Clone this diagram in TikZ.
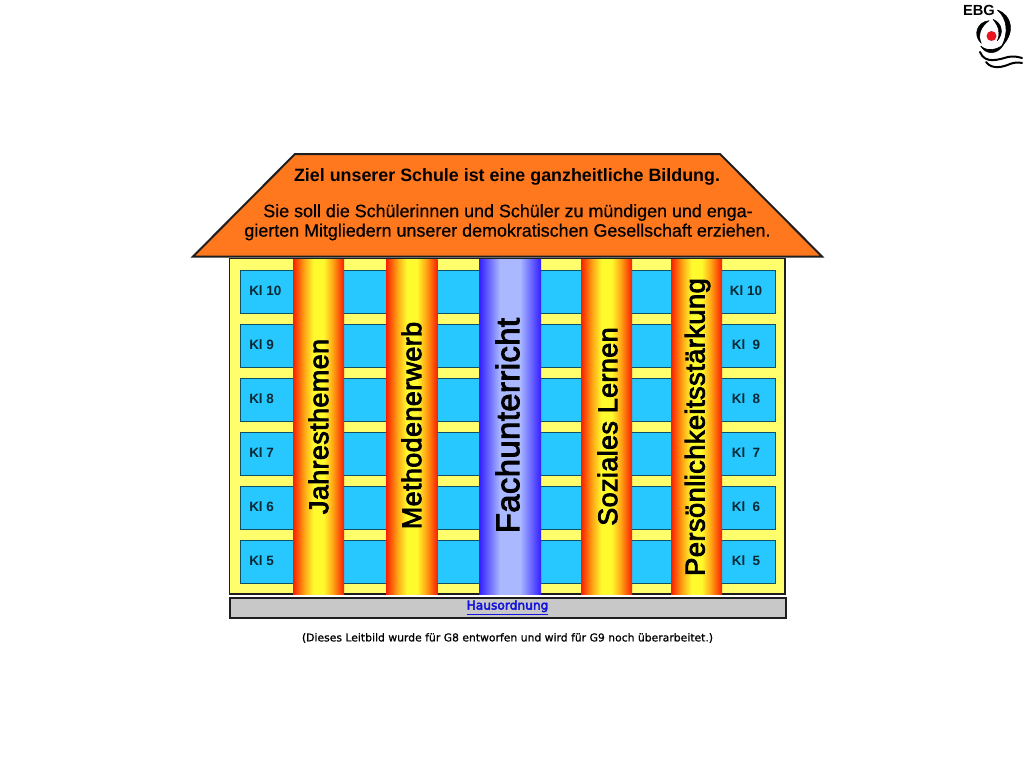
\documentclass[tikz,border=0pt]{standalone}
\usepackage{fontspec}
\setmainfont{Liberation Sans}
\newfontfamily\smallui[FakeBold=0.8]{DejaVu Sans}
\newfontfamily\linkui[FakeBold=3.5]{DejaVu Sans}
\newfontfamily\pillarfont[FakeBold=3,LetterSpace=1.5]{Liberation Sans}
\newfontfamily\roofbody[FakeBold=0.6]{Liberation Sans}
\definecolor{roofc}{RGB}{255,120,30}
\definecolor{wallc}{RGB}{255,255,110}
\definecolor{roomc}{RGB}{38,200,255}
\definecolor{barc}{RGB}{200,200,200}
\definecolor{framec}{RGB}{30,30,30}
\definecolor{linkc}{RGB}{20,20,220}
\definecolor{bluee}{RGB}{50,30,255}
\definecolor{bluem}{RGB}{170,185,255}
\definecolor{reddot}{RGB}{235,20,30}
\definecolor{warmred}{RGB}{250,30,0}
\definecolor{warmorange}{RGB}{255,165,20}
\definecolor{warmyellow}{RGB}{255,250,45}
\pgfdeclarehorizontalshading{warmshade}{100bp}{
  color(0bp)=(warmred); color(25bp)=(warmred);
  color(36bp)=(warmorange); color(45bp)=(warmyellow); color(55bp)=(warmyellow);
  color(64bp)=(warmorange); color(75bp)=(warmred); color(100bp)=(warmred)}
\pgfdeclarehorizontalshading{coolshade}{100bp}{
  color(0bp)=(bluee); color(25bp)=(bluee); color(42bp)=(bluem);
  color(58bp)=(bluem); color(75bp)=(bluee); color(100bp)=(bluee)}
\tikzset{
  x=0.75pt,y=-0.75pt,
  roomcell/.style={draw=black!60!roomc,line width=0.65pt,fill=roomc},
  roomlabel/.style={font=\bfseries\fontsize{10.1}{12}\selectfont,text=black!80!roomc,inner sep=0pt},
  pillarwarm/.style={shading=warmshade,draw=none},
  pillarcool/.style={shading=coolshade,draw=none},
  pillartext/.style={rotate=90,inner sep=0pt,font=\pillarfont\fontsize{20.2}{24}\selectfont},
  logoshape/.style={fill=black,draw=black,line width=0.4pt,line join=round},
  logowave/.style={line cap=round,line width=1.5pt,draw=black}
}
\begin{document}
\begin{tikzpicture}
\useasboundingbox (0,0) rectangle (1024,768);
\fill[white] (0,0) rectangle (1024,768);
% body
\filldraw[fill=wallc,draw=framec,line width=1.4pt] (229.5,258.5) rectangle (785,594);
% rooms
\foreach \y in {270.5,324.5,378.5,432.5,486.5,540.5}{
  \draw[roomcell] (240,\y) rectangle (775,\y+42.5);
}
% pillars
\shade[pillarwarm] (293,259) rectangle (344,594);
\shade[pillarwarm] (386,259) rectangle (437.5,594);
\shade[pillarcool] (479,259) rectangle (541,594);
\shade[pillarwarm] (581,259) rectangle (632,594);
\shade[pillarwarm] (671,259) rectangle (722,594);
\node[pillartext] (p1) at (318.5,426.5) {Jahresthemen};
\node[pillartext] (p2) at (411.5,425.5) {Methodenerwerb};
\node[pillartext,font=\pillarfont\fontsize{24.5}{29}\selectfont] (p3) at (507.5,425.5) {Fachunterricht};
\node[pillartext] (p4) at (607.5,426.5) {Soziales Lernen};
\node[pillartext,font=\pillarfont\fontsize{20.5}{25}\selectfont] (p5) at (697.5,427) {Persönlichkeitsstärkung};
% class labels
\foreach \n/\y/\l/\r in {a/291/Kl 10/Kl 10,b/344.5/Kl 9/Kl\ \ 9,c/398.5/Kl 8/Kl\ \ 8,d/452.5/Kl 7/Kl\ \ 7,e/506.5/Kl 6/Kl\ \ 6,f/560.5/Kl 5/Kl\ \ 5}{
  \node[roomlabel,anchor=west] (l\n) at (249,\y) {\l};
  \node[roomlabel] (r\n) at (746,\y) {\r};
}
% roof
\filldraw[fill=roofc,draw=framec,line width=1.5pt,line join=miter] (295,154) -- (720,154) -- (822,256.5) -- (193,256.5) -- cycle;
\node[inner sep=0pt,font=\bfseries\fontsize{13.4}{16}\selectfont] (t1) at (507,176.5) {Ziel unserer Schule ist eine ganzheitliche Bildung.};
\node[inner sep=0pt,font=\roofbody\fontsize{13.42}{16}\selectfont] (t2) at (508,212.5) {Sie soll die Schülerinnen und Schüler zu mündigen und enga-};
\node[inner sep=0pt,font=\roofbody\fontsize{13.42}{16}\selectfont] (t3) at (507.5,232) {gierten Mitgliedern unserer demokratischen Gesellschaft erziehen.};
% bar
\filldraw[fill=barc,draw=framec,line width=1.5pt] (230,597.5) rectangle (785.5,618);
\node[inner sep=0pt,font=\linkui\fontsize{9.15}{11}\selectfont,text=linkc] (h) at (507.5,607.5) {\underline{Hausordnung}};
\node[inner sep=0pt,font=\smallui\fontsize{8.1}{10}\selectfont] (n) at (507.5,638) {(Dieses Leitbild wurde für G8 entworfen und wird für G9 noch überarbeitet.)};
% logo
\node[inner sep=0pt,font=\bfseries\fontsize{11}{13}\selectfont] (ebg) at (979,10) {EBG};
\filldraw[logoshape] (997.3,10) .. controls (1012.3,15) and (1015.7,33.3) .. (1001.3,46.7) .. controls (1009,33.3) and (1007.3,18.3) .. (997.3,10) -- cycle;
\filldraw[logoshape] (989,20.7) .. controls (977.3,21.7) and (972.3,35) .. (981.3,43.3) .. controls (977.3,35) and (980.7,26.7) .. (989,20.7) -- cycle;
\filldraw[logoshape] (993,19.3) .. controls (1002.3,23.3) and (1004,33.3) .. (997.3,40.7) .. controls (1000.7,33.3) and (999,26.7) .. (993,19.3) -- cycle;
\filldraw[logoshape] (980.7,46) .. controls (985.7,55) and (997.3,55) .. (1003.3,45) .. controls (995.7,50) and (987.3,51.7) .. (980.7,46) -- cycle;
\draw[logowave] (980,52) .. controls (985,65) and (1000,59) .. (1008,57) .. controls (1013,56) and (1017,56.5) .. (1022,58);
\draw[logowave] (986,62) .. controls (992,70) and (1003,67) .. (1010,64) .. controls (1014,62.5) and (1018,62) .. (1022,63);
\fill[reddot] (991.5,36) circle (5);
\end{tikzpicture}
\end{document}
